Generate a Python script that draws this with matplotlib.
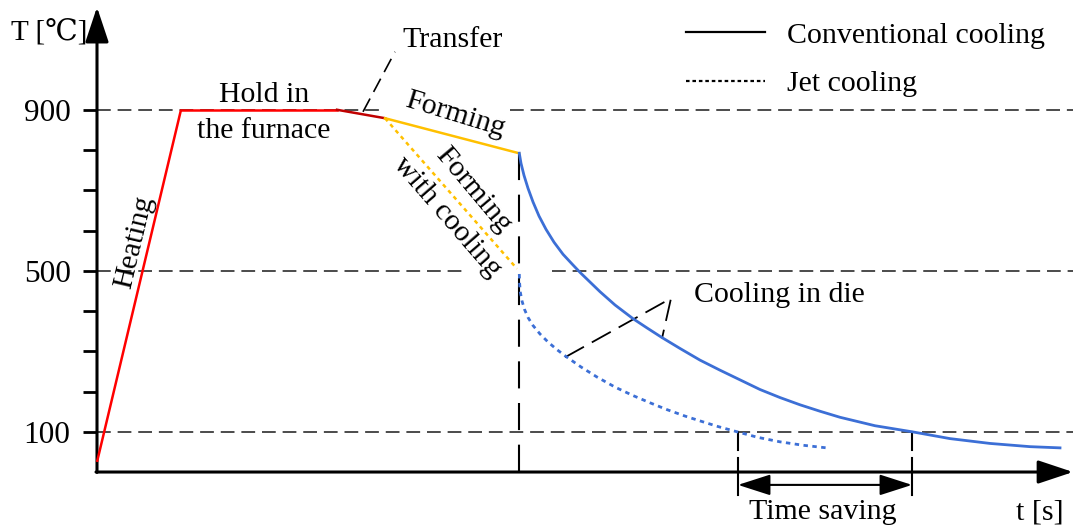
import matplotlib
matplotlib.use("Agg")
import matplotlib.pyplot as plt
from matplotlib.lines import Line2D

# ---------------- data (time in arbitrary units, temperature in deg C) ----------------
heat_t = [0, 84]
heat_T = [25, 900]
hold_t = [84, 240]
hold_T = [900, 900]
transfer_t = [240, 288]
transfer_T = [900, 879]
forming_t = [288, 422]
forming_T = [879, 792]
forming_cool_t = [288, 420]
forming_cool_T = [879, 505]
conv_t = [422.3, 424, 427, 431, 436, 442, 449, 457, 466, 475, 483, 493, 503, 518, 536, 550,
          565, 583, 603, 623, 643, 663, 683, 703, 723, 743, 778, 815, 853, 893, 933, 963]
conv_T = [792, 767, 737, 705, 671, 636, 603, 571, 541, 517, 496, 472, 448, 415, 381, 358,
          334, 307, 278, 253, 229, 205, 185, 167, 151, 136, 115, 100, 83, 71, 63, 60]
jet_t = [422.3, 422.6, 423.3, 425, 427.5, 431, 436, 443, 451, 460, 469, 484, 500, 518, 536,
         553, 570, 588, 603, 621, 640, 661, 683, 706, 729.7]
jet_T = [492, 470, 447, 425, 404, 384, 364, 343, 323, 304, 287, 261, 236, 211, 190,
         172, 155, 139, 127, 113, 100, 86, 75, 66.5, 60]

ytick_vals = [100, 200, 300, 400, 500, 600, 700, 800, 900]
ytick_labels = ["100", "", "", "", "500", "", "", "", "900"]
guide_levels = [900, 500, 100]
guide_spans = [[(0, 286), (413, 976)], [(0, 366), (455, 976)], [(0, 976)]]
t_end_forming = 422
t_jet_100 = 641
t_conv_100 = 815

RED = "#FF0000"
DARKRED = "#C00000"
ORANGE = "#FFC000"
BLUE = "#3C6FD6"
FONT = ["Liberation Serif", "DejaVu Serif"]
FS = 21.5

plt.rcParams["font.family"] = FONT

fig = plt.figure(figsize=(10.73, 5.27), dpi=100)
ax = fig.add_axes([0, 0, 1, 1])
ax.set_xlim(-97, 976)
ax.set_ylim(-136.6, 1172.7)
ax.patch.set_alpha(0)

for s in ["top", "right", "bottom"]:
    ax.spines[s].set_visible(False)
ax.spines["left"].set_position(("data", 0))
ax.spines["left"].set_visible(False)
ax.set_xticks([])
ax.set_yticks(ytick_vals)
ax.set_yticklabels(ytick_labels, fontsize=22.5)
ax.tick_params(axis="y", direction="out", length=10, width=2, pad=9)

# axes with arrowheads
arrow_kw = dict(arrowstyle="-|>,head_length=1.5,head_width=0.5", mutation_scale=14.4,
                color="black", lw=2.2, shrinkA=0, shrinkB=0)
ax.annotate("", xy=(0, 1155), xytext=(0, -1), arrowprops=arrow_kw, annotation_clip=False)
ax.annotate("", xy=(976, 0), xytext=(-1, 0), arrowprops=arrow_kw, annotation_clip=False)

# guide dashed lines
for lvl, spans in zip(guide_levels, guide_spans):
    for a, b in spans:
        ax.plot([a, b], [lvl, lvl], color="#1a1a1a", lw=1.1, dashes=(9, 4.5), zorder=1)

# vertical dashed at end of forming
ax.plot([t_end_forming, t_end_forming], [792, 0], color="black", lw=1.5, dashes=(13, 7), zorder=1)

# process curves
ax.plot(heat_t, heat_T, color=RED, lw=1.8, solid_capstyle="butt", zorder=3)
ax.plot(hold_t, hold_T, color=RED, lw=1.8, zorder=3)
ax.plot(transfer_t, transfer_T, color=DARKRED, lw=1.8, zorder=3)
ax.plot(forming_t, forming_T, color=ORANGE, lw=1.8, zorder=3)
ax.plot(forming_cool_t, forming_cool_T, color=ORANGE, lw=1.8, dashes=(1.6, 1.6), zorder=3)
ax.plot(conv_t, conv_T, color=BLUE, lw=2.0, zorder=3, solid_joinstyle="round")
ax.plot(jet_t, jet_T, color=BLUE, lw=2.0, dashes=(1.6, 1.6), zorder=3)

# annotation dashed pointers
ax.plot([266, 298], [895, 1044], color="black", lw=1.2, dashes=(9, 4.5), zorder=2)
ax.plot([468, 574, 565], [285, 431.5, 332], color="black", lw=1.3, dashes=(12, 5), zorder=2)

# time saving markers
for tx in [t_jet_100, t_conv_100]:
    ax.plot([tx, tx], [100, 55], color="black", lw=1.5, clip_on=False)
    ax.plot([tx, tx], [35, -57], color="black", lw=1.5, clip_on=False)
ax.annotate("", xy=(t_jet_100, -32), xytext=(t_conv_100, -32),
            arrowprops=dict(arrowstyle="<|-|>,head_length=1.4,head_width=0.45", mutation_scale=14.4,
                            color="black", lw=1.5, shrinkA=0, shrinkB=0))

# texts
ax.text(-86, 1073, "T [℃]", fontsize=21, ha="left", va="baseline",
        family=["Liberation Serif", "DejaVu Serif", "Noto Sans CJK SC"])
ax.text(37, 571, "Heating", fontsize=FS, rotation=76.6, ha="center", va="center")
ax.text(167, 920, "Hold in", fontsize=FS, ha="center", va="baseline")
ax.text(167, 830, "the furnace", fontsize=FS, ha="center", va="baseline")
ax.text(305, 1057, "Transfer", fontsize=FS, ha="left", va="baseline")
ax.text(358, 887, "Forming", fontsize=FS, rotation=-17, ha="center", va="center")
ax.text(376, 700, "Forming", fontsize=FS, rotation=-50, ha="center", va="center")
ax.text(350, 633, "with cooling", fontsize=FS, rotation=-49, ha="center", va="center")
ax.text(597, 423, "Cooling in die", fontsize=FS, ha="left", va="baseline")
ax.text(725.5, -117, "Time saving", fontsize=FS, ha="center", va="baseline")
ax.text(943, -117, "t [s]", fontsize=FS, ha="center", va="baseline")

handles = [Line2D([], [], color="black", lw=1.6),
           Line2D([], [], color="black", lw=1.6, dashes=(1.6, 1.3))]
ax.legend(handles, ["Conventional cooling", "Jet cooling"], loc="upper left",
          bbox_to_anchor=(686 / 1073, 1 - 22 / 527), bbox_transform=fig.transFigure,
          frameon=False, fontsize=FS, handlelength=2.64, handletextpad=0.74,
          labelspacing=0.72, borderpad=0, borderaxespad=0)

fig.savefig("out.png", dpi=100)
